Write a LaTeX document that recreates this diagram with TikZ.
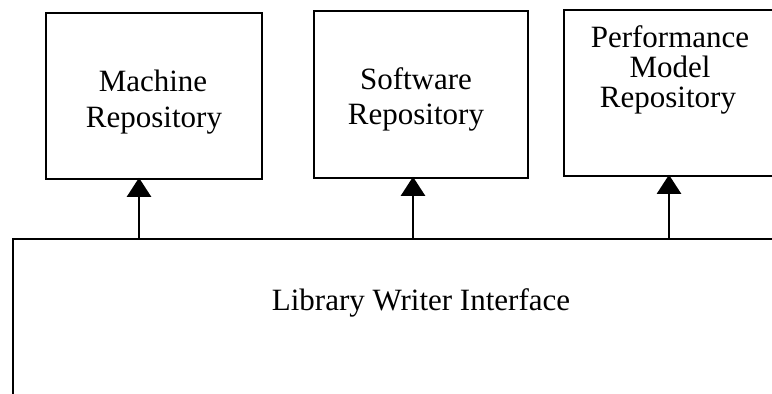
\documentclass[tikz,border=0pt]{standalone}
\usepackage{fontspec}
\setmainfont{Liberation Serif}
\usetikzlibrary{arrows.meta}
\tikzset{
  box/.style={draw, line width=2.3pt, rectangle, inner sep=0pt, outer sep=0pt},
  lbl/.style={anchor=base, inner sep=0pt, font=\fontsize{31}{36}\selectfont},
  arr/.style={line width=2.3pt, -{Triangle[width=24pt,length=19pt]}, shorten >=-1.2pt}
}
\begin{document}
\begin{tikzpicture}[x=1pt,y=-1pt]
  \useasboundingbox (0,0) rectangle (772,394);
  \fill[white] (0,0) rectangle (772,394);

  % repositories
  \node[box, minimum width=216pt, minimum height=166pt] (mach) at (154,96) {};
  \node[box, minimum width=214pt, minimum height=167pt] (soft) at (421,94.5) {};
  \node[box, minimum width=248pt, minimum height=166pt] (perf) at (688,93) {};

  % interface (runs past the right and bottom edges)
  \node[box, minimum width=799pt, minimum height=191pt] (lwi) at (412.5,334.5) {};

  % labels
  \node[lbl] (machA) at (153,91) {Machine};
  \node[lbl] (machB) at (154,127) {Repository};
  \node[lbl] (softA) at (416,89) {Software};
  \node[lbl] (softB) at (416,124) {Repository};
  \node[lbl] (perfA) at (670,47) {Performance};
  \node[lbl] (perfB) at (670,77) {Model};
  \node[lbl] (perfC) at (668,107) {Repository};
  \node[lbl] (lwiA) at (421,310) {Library Writer Interface};

  % connectors from the interface up to each repository
  \coordinate (c1) at (139,239);
  \coordinate (c2) at (413,239);
  \coordinate (c3) at (669,239);
  \draw[arr] (c1) -- (c1 |- mach.south);
  \draw[arr] (c2) -- (c2 |- soft.south);
  \draw[arr] (c3) -- (c3 |- perf.south);
\end{tikzpicture}
\end{document}
